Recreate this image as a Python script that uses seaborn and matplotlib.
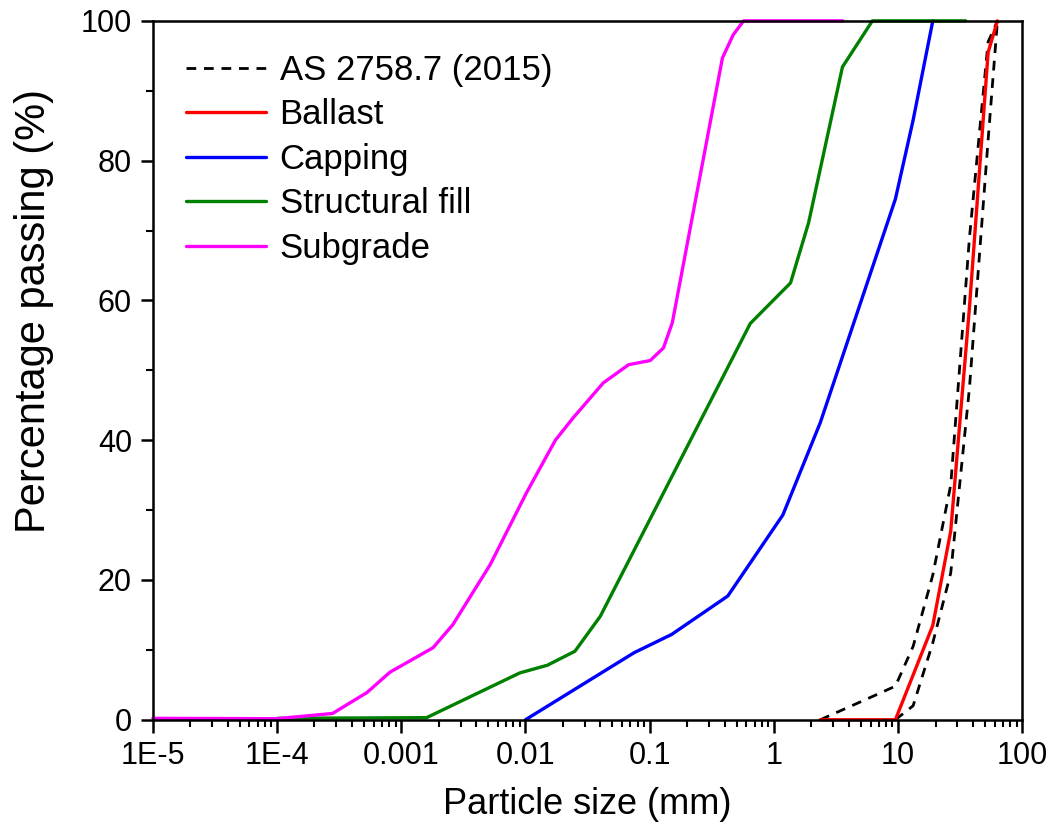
import numpy as np
import pandas as pd
import matplotlib
matplotlib.use('Agg')
import matplotlib.pyplot as plt
import matplotlib.ticker as mticker
import seaborn as sns

# Grading curves (particle size in mm, percentage passing)
as_upper_size = [2.36, 4.75, 9.5, 13.2, 19.0, 26.5, 37.5, 53.0, 63.0]
as_upper_pass = [0.0, 2.4, 4.8, 10.5, 20.7, 33.6, 69.0, 97.0, 100.0]
as_lower_size = [9.5, 13.2, 19.0, 26.5, 37.5, 53.0, 63.0]
as_lower_pass = [0.0, 2.0, 11.0, 21.0, 47.5, 83.0, 100.0]

ballast_size = [2.36, 9.5, 19.0, 26.5, 37.5, 53.0, 63.0]
ballast_pass = [0.0, 0.0, 13.5, 27.0, 59.0, 95.5, 100.0]

capping_size = [0.01, 0.075, 0.15, 0.425, 1.18, 2.36, 9.5, 13.2, 19.0]
capping_pass = [0.0, 9.6, 12.2, 17.7, 29.3, 42.5, 74.5, 85.8, 100.0]

fill_size = [1e-4, 0.0016, 0.009, 0.015, 0.025, 0.04, 0.645, 1.36, 1.9, 3.56, 6.2, 35.0]
fill_pass = [0.2, 0.3, 6.7, 7.8, 9.8, 14.8, 56.7, 62.5, 71.1, 93.4, 100.0, 100.0]

subgrade_size = [1e-5, 1e-4, 2.8e-4, 5.3e-4, 8.1e-4, 1.8e-3, 2.6e-3, 5.2e-3, 0.0102,
                 0.0174, 0.0242, 0.0423, 0.0676, 0.101, 0.129, 0.152, 0.385, 0.47,
                 0.57, 3.6]
subgrade_pass = [0.2, 0.15, 0.9, 3.9, 6.8, 10.3, 13.6, 22.2, 32.5, 40.0, 43.2, 48.2,
                 50.8, 51.4, 53.2, 56.8, 94.7, 98.0, 100.0, 100.0]

xtick_vals = [1e-5, 1e-4, 1e-3, 1e-2, 1e-1, 1, 10, 100]
xtick_labels = ['1E-5', '1E-4', '0.001', '0.01', '0.1', '1', '10', '100']

sns.set_theme(style='ticks')
plt.rcParams['font.family'] = ['Liberation Sans', 'DejaVu Sans']
plt.rcParams['text.color'] = 'black'
plt.rcParams['axes.labelcolor'] = 'black'

fig, ax = plt.subplots(figsize=(10.54, 8.34), dpi=100)
fig.subplots_adjust(left=0.145, right=0.970, bottom=0.137, top=0.975)

lw = 2.4
dash = (0, (3.5, 2.8))

sns.lineplot(x=as_upper_size, y=as_upper_pass, ax=ax, color='black', lw=2.0,
             linestyle=dash, sort=False, estimator=None, label='AS 2758.7 (2015)')
sns.lineplot(x=as_lower_size, y=as_lower_pass, ax=ax, color='black', lw=2.0,
             linestyle=dash, sort=False, estimator=None)
sns.lineplot(x=ballast_size, y=ballast_pass, ax=ax, color='#FF0000', lw=lw,
             sort=False, estimator=None, label='Ballast')
sns.lineplot(x=capping_size, y=capping_pass, ax=ax, color='#0000FF', lw=lw,
             sort=False, estimator=None, label='Capping')
sns.lineplot(x=fill_size, y=fill_pass, ax=ax, color='#008000', lw=lw,
             sort=False, estimator=None, label='Structural fill')
sns.lineplot(x=subgrade_size, y=subgrade_pass, ax=ax, color='#FF00FF', lw=lw,
             sort=False, estimator=None, label='Subgrade')

for ln in ax.get_lines():
    ln.set_clip_on(False)

ax.set_xscale('log')
ax.set_xlim(1e-5, 100)
ax.set_ylim(0, 100)
ax.xaxis.set_major_locator(mticker.FixedLocator(xtick_vals))
ax.xaxis.set_major_formatter(mticker.FixedFormatter(xtick_labels))
ax.xaxis.set_minor_locator(mticker.LogLocator(base=10, subs=np.arange(2, 10), numticks=20))
ax.xaxis.set_minor_formatter(mticker.NullFormatter())
ax.yaxis.set_major_locator(mticker.MultipleLocator(20))
ax.yaxis.set_minor_locator(mticker.MultipleLocator(10))

for sp in ax.spines.values():
    sp.set_linewidth(1.8)
    sp.set_color('black')

ax.tick_params(which='major', direction='out', length=9, width=1.8, labelsize=22,
               colors='black', pad=6)
ax.tick_params(which='minor', direction='out', length=5, width=1.5, colors='black')

ax.set_xlabel('Particle size (mm)', fontsize=26, labelpad=12)
ax.set_ylabel('Percentage passing (%)', fontsize=30)
ax.yaxis.set_label_coords(-0.114, 0.585)

ax.legend(loc='upper left', frameon=False, fontsize=25, handlelength=2.3,
          labelspacing=0.33, handletextpad=0.4, borderaxespad=0.5,
          borderpad=0.45)

fig.savefig('out.png', dpi=100)
